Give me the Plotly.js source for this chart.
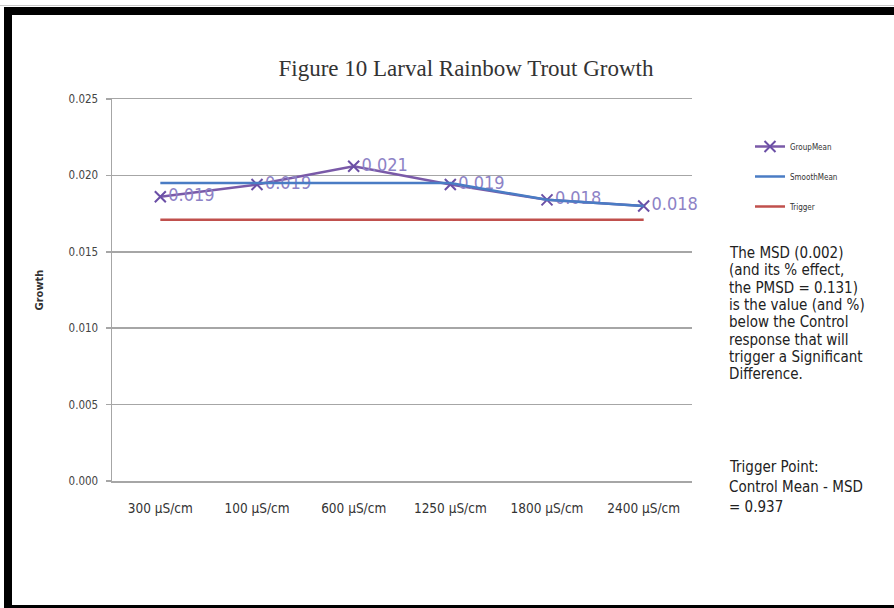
<!DOCTYPE html>
<html>
<head>
<meta charset="utf-8">
<script src="https://cdn.plot.ly/plotly-3.0.1.min.js"></script>
<style>
  html, body { margin: 0; padding: 0; background: #ffffff; }
  #wrap { position: relative; width: 894px; height: 608px; overflow: hidden; }
  #chart { position: absolute; left: 0; top: 0; width: 894px; height: 608px; }
  .bar { position: absolute; background: #000; pointer-events: none; }
</style>
</head>
<body>
<div id="wrap">
  <div id="chart"></div>
  <div class="bar" style="left:0;top:5px;width:894px;height:1px;background:#c8c8c8"></div>
  <div class="bar" style="left:4px;top:7px;width:890px;height:8px"></div>
  <div class="bar" style="left:4px;top:7px;width:8px;height:601px"></div>
  <div class="bar" style="left:4px;top:605px;width:890px;height:3px"></div>
</div>
<script>
// ---- data ----
const categories = ['300 µS/cm', '100 µS/cm', '600 µS/cm', '1250 µS/cm', '1800 µS/cm', '2400 µS/cm'];
const groupMean  = [0.0186, 0.0194, 0.0206, 0.0194, 0.0184, 0.0180];
const smoothMean = [0.0195, 0.0195, 0.0195, 0.0195, 0.0184, 0.0180];
const trigger    = [0.0171, 0.0171, 0.0171, 0.0171, 0.0171, 0.0171];
const groupLabels = ['0.019', '0.019', '0.021', '0.019', '0.018', '0.018'];
const yTickVals  = [0, 0.005, 0.010, 0.015, 0.020, 0.025];
const yTickText  = ['0.000', '0.005', '0.010', '0.015', '0.020', '0.025'];
const msdLines = ['The MSD (0.002)', '(and its % effect,', 'the PMSD = 0.131)', 'is the value (and %)',
                  'below the Control', 'response that will', 'trigger a Significant', 'Difference.'];
const triggerLines = ['Trigger Point:', 'Control Mean - MSD', '= 0.937'];

const uiFont = '"DejaVu Sans Condensed", "Open Sans", sans-serif';

const traces = [
  {
    x: categories, y: groupMean, name: 'GroupMean', type: 'scatter', mode: 'lines+markers+text',
    text: groupLabels, textposition: 'middle right',
    textfont: { family: uiFont, size: 18, color: '#8d82c6' },
    line: { color: '#7a5aa8', width: 2.5 },
    marker: { symbol: 'x-thin-open', size: 11, color: '#6b4fa6', line: { width: 2, color: '#6b4fa6' } },
    legendgroup: 'g1', cliponaxis: false
  },
  {
    x: categories, y: smoothMean, name: 'SmoothMean', type: 'scatter', mode: 'lines',
    line: { color: '#4a7cc4', width: 2.5 },
    legendgroup: 'g2'
  },
  {
    x: categories, y: trigger, name: 'Trigger', type: 'scatter', mode: 'lines',
    line: { color: '#c0504d', width: 2.5 },
    legendgroup: 'g3'
  }
];

const annotations = [];
msdLines.forEach((t, i) => annotations.push({
  text: t, xref: 'paper', yref: 'paper', x: (727 - 112) / 580, y: (481 - (253 + i * 17.3)) / 382,
  xanchor: 'left', yanchor: 'middle', showarrow: false,
  font: { family: uiFont, size: 15, color: '#222' }
}));
triggerLines.forEach((t, i) => annotations.push({
  text: t, xref: 'paper', yref: 'paper', x: (727 - 112) / 580, y: (481 - (467 + i * 20)) / 382,
  xanchor: 'left', yanchor: 'middle', showarrow: false,
  font: { family: uiFont, size: 15, color: '#222' }
}));

const layout = {
  width: 894, height: 608,
  paper_bgcolor: '#ffffff', plot_bgcolor: '#ffffff',
  margin: { l: 112, r: 202, t: 99, b: 127, pad: 0 },
  title: {
    text: 'Figure 10 Larval Rainbow Trout Growth',
    font: { family: '"Liberation Serif", "DejaVu Serif", serif', size: 23, color: '#333' },
    x: 466 / 894, xanchor: 'center', y: 1 - 68 / 608, yanchor: 'middle'
  },
  xaxis: {
    type: 'category', range: [-0.5, 5.5],
    showgrid: false, zeroline: false,
    showline: true, mirror: true, linecolor: '#a6a6a6', linewidth: 1.5,
    ticks: '', ticklabelstandoff: 14,
    tickfont: { family: uiFont, size: 13.5, color: '#333' }
  },
  yaxis: {
    range: [0, 0.025], tickvals: yTickVals, ticktext: yTickText,
    showgrid: true, gridcolor: '#a6a6a6', gridwidth: 1.5,
    zeroline: false, showline: true, linecolor: '#a6a6a6', linewidth: 1.5,
    ticks: 'outside', ticklen: 5, tickcolor: '#a6a6a6', tickwidth: 1.5, ticklabelstandoff: 5,
    tickfont: { family: uiFont, size: 11.5, color: '#444' },
    title: { text: '<b>Growth</b>', standoff: 22, font: { family: uiFont, size: 11, color: '#333' } }
  },
  showlegend: true,
  legend: {
    x: (750 - 112) / 580, y: (481 - 132) / 382, xanchor: 'left', yanchor: 'top',
    traceorder: 'grouped', tracegroupgap: 11, itemwidth: 30,
    font: { family: uiFont, size: 8, color: '#333' },
    bgcolor: 'rgba(0,0,0,0)'
  },
  annotations: annotations
};

Plotly.newPlot('chart', traces, layout, { displayModeBar: false, staticPlot: true });
</script>
</body>
</html>
